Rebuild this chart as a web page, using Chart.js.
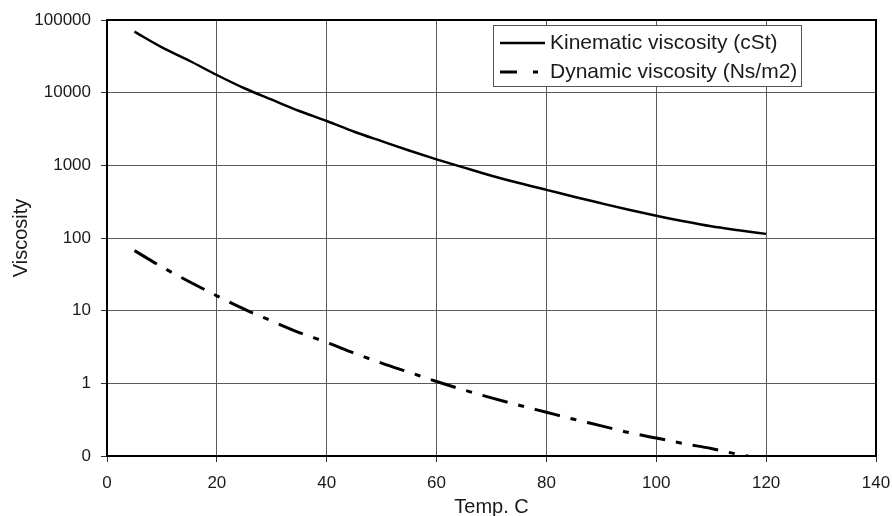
<!DOCTYPE html>
<html>
<head>
<meta charset="utf-8">
<script src="https://cdn.jsdelivr.net/npm/chart.js@4/dist/chart.umd.min.js"></script>
<style>
  body { margin: 0; background: #fff; }
  #wrap { width: 892px; height: 516px; }
</style>
</head>
<body>
<div id="wrap"><canvas id="canvasVisc" width="892" height="516"></canvas></div>
<script>
// temperature, C
const temps = [5, 10, 15, 20, 25, 30, 35, 40, 45, 50, 55, 60, 65, 70, 75, 80, 85, 90, 95, 100, 105, 110, 115, 120];
// kinematic viscosity (cSt)
const kinematic = [69000, 42000, 27500, 17500, 11500, 8000, 5600, 4080, 2900, 2150, 1600, 1210,
    930, 720, 570, 460, 370, 300, 245, 203, 170, 145, 128, 114];
// dynamic viscosity (Ns/m2)
const dynamic = [67, 40, 25, 16, 10.5, 7.2, 5.0, 3.66, 2.6, 1.9, 1.42, 1.06,
    0.81, 0.63, 0.50, 0.40, 0.32, 0.26, 0.21, 0.177, 0.148, 0.127, 0.105, 0.09];

const yTickValues = [0.1, 1, 10, 100, 1000, 10000, 100000];
const yTickLabels = ['0', '1', '10', '100', '1000', '10000', '100000'];
const seriesNames = ['Kinematic viscosity (cSt)', 'Dynamic viscosity (Ns/m2)'];

const FONT = "'Liberation Sans', Arial, sans-serif";
const DASH = [26, 11, 6, 11];

// frame round the plot + legend box inside the plot
const framePlugin = {
    id: 'frame',
    afterDraw(chart) {
        const ctx = chart.ctx;
        const ca = chart.chartArea;
        ctx.save();
        ctx.strokeStyle = '#000';
        ctx.lineWidth = 2;
        ctx.strokeRect(ca.left, ca.top, ca.right - ca.left, ca.bottom - ca.top);

        // legend
        const bx = ca.left + 386, by = ca.top + 5, bw = 308, bh = 61;
        ctx.fillStyle = '#fff';
        ctx.fillRect(bx, by, bw, bh);
        ctx.strokeStyle = '#555';
        ctx.lineWidth = 1;
        ctx.strokeRect(bx + 0.5, by + 0.5, bw, bh);

        const rows = [by + 18, by + 47];
        ctx.strokeStyle = '#000';
        ctx.lineWidth = 2.5;
        ctx.beginPath();
        ctx.moveTo(bx + 7, rows[0]);
        ctx.lineTo(bx + 52, rows[0]);
        ctx.stroke();
        ctx.lineWidth = 3;
        ctx.setLineDash([17, 16, 5, 16]);
        ctx.beginPath();
        ctx.moveTo(bx + 7, rows[1]);
        ctx.lineTo(bx + 52, rows[1]);
        ctx.stroke();
        ctx.setLineDash([]);

        ctx.fillStyle = '#1a1a1a';
        ctx.font = '21px ' + FONT;
        ctx.textBaseline = 'middle';
        ctx.textAlign = 'left';
        ctx.fillText(seriesNames[0], bx + 57, rows[0]);
        ctx.fillText(seriesNames[1], bx + 57, rows[1]);
        ctx.restore();
    }
};

viscChart(document.getElementById('canvasVisc').getContext('2d'));

function viscChart(canvas) {
    new Chart(canvas, {
        type: 'line',
        data: {
            datasets: [
                {
                    label: seriesNames[0],
                    data: temps.map((t, i) => ({ x: t, y: kinematic[i] })),
                    borderColor: '#000',
                    borderWidth: 2.5,
                    pointRadius: 0,
                    fill: false,
                    cubicInterpolationMode: 'monotone',
                    clip: 0
                },
                {
                    label: seriesNames[1],
                    data: temps.map((t, i) => ({ x: t, y: dynamic[i] })),
                    borderColor: '#000',
                    borderWidth: 3,
                    borderDash: DASH,
                    pointRadius: 0,
                    fill: false,
                    cubicInterpolationMode: 'monotone',
                    clip: 0
                }]
        },
        options: {
            responsive: false,
            animation: false,
            layout: { padding: { top: 20, right: 16, left: 0, bottom: 0 } },
            plugins: {
                legend: { display: false },
                tooltip: { enabled: false }
            },
            scales: {
                x: {
                    type: 'linear',
                    min: 0,
                    max: 140,
                    ticks: {
                        stepSize: 20,
                        padding: 11,
                        color: '#1a1a1a',
                        font: { family: FONT, size: 17 }
                    },
                    grid: { color: '#5a5a5a', lineWidth: 1, tickLength: 6, tickColor: '#333' },
                    border: { color: '#000', width: 2 },
                    title: {
                        display: true,
                        text: 'Temp. C',
                        color: '#1a1a1a',
                        font: { family: FONT, size: 20, lineHeight: 1 },
                        padding: { top: 0, bottom: -1 }
                    },
                    afterFit: scale => {
                        scale.height = 60
                        scale.paddingLeft = 0
                        scale.paddingRight = 0
                    }
                },
                y: {
                    type: 'logarithmic',
                    min: 0.1,
                    max: 100000,
                    afterBuildTicks: scale => {
                        scale.ticks = yTickValues.map(v => ({ value: v, major: true }))
                    },
                    ticks: {
                        padding: 10,
                        color: '#1a1a1a',
                        font: { family: FONT, size: 17 },
                        callback: (value, index) => yTickLabels[index]
                    },
                    grid: { color: '#5a5a5a', lineWidth: 1, tickLength: 6, tickColor: '#333' },
                    border: { color: '#000', width: 2 },
                    title: {
                        display: true,
                        text: 'Viscosity',
                        color: '#1a1a1a',
                        font: { family: FONT, size: 20 },
                        padding: { top: 9, bottom: 0 }
                    },
                    afterFit: scale => {
                        scale.width = 107
                        scale.paddingTop = 0
                        scale.paddingBottom = 0
                    }
                }
            }
        },
        plugins: [framePlugin]
    });
}
</script>
</body>
</html>
